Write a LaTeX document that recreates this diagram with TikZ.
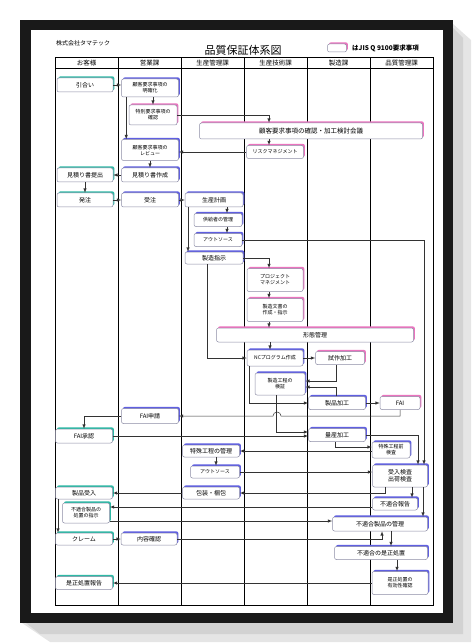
\documentclass[tikz,border=0pt]{standalone}
\usepackage{fontspec}
\setmainfont{Noto Sans CJK JP}
\usetikzlibrary{calc,arrows,shadows,positioning}
\tikzset{>=latex}
\definecolor{myteal}{RGB}{45,185,165}
\definecolor{myblue}{RGB}{95,95,225}
\definecolor{mypink}{RGB}{235,115,190}
\definecolor{myedge}{RGB}{140,140,165}

\begin{document}
\begin{tikzpicture}[x=1pt, y=-1pt,
  box/.style={draw=myedge, fill=white, rounded corners=2pt, align=center, inner sep=0pt, line width=0.5pt, font=\fontsize{6}{7}\selectfont},
  sz/.style 2 args={minimum width=#1pt, minimum height=#2pt},
  cust/.style={box, drop shadow={shadow xshift=1.4pt, shadow yshift=1.6pt, fill=myteal, opacity=1}},
  dept/.style={box, drop shadow={shadow xshift=1.4pt, shadow yshift=1.6pt, fill=myblue, opacity=1}},
  jis/.style={box, drop shadow={shadow xshift=1.4pt, shadow yshift=1.6pt, fill=mypink, opacity=1}},
  small/.style={font=\fontsize{5}{6}\selectfont},
  conn/.style={->, draw=black!80, line width=0.5pt}]
\useasboundingbox (0,0) rectangle (474,644);
% frame
\fill[gray!20] (453,24) -- (471,40) -- (471,642) -- (50,642) -- (22,623) -- (453,623) -- cycle;
\fill[gray!35] (453,28) -- (463,38) -- (463,634) -- (40,634) -- (26,623) -- (453,623) -- cycle;
\fill[black!90] (20,20) rectangle (453,623);
\fill[white] (31,30) rectangle (443,613);
% table
\draw[line width=1pt] (55,58) rectangle (433,605);
\draw[line width=1pt] (55,69) -- (433,69);
\foreach \x in {118,181,244,307,370} \draw[line width=1pt] (\x,58) -- (\x,605);
\foreach \t [count=\i] in {お客様,営業課,生産管理課,生産技術課,製造課,品質管理課}
  \node[font=\fontsize{6.5}{7}\selectfont] (head\i) at (55+63*\i-31.5,63.5) {\t};
\node[font=\fontsize{11}{12}\selectfont] (title) at (243,50) {品質保証体系図};
\node[anchor=west, font=\fontsize{6}{7}\selectfont, inner sep=0pt] (corp) at (56,43) {株式会社タマテック};
\node[jis, sz={19}{8}] (legbox) at (337,48) {};
\node[anchor=west, font=\fontsize{6.5}{7}\selectfont\bfseries, inner sep=0pt] (legtxt) at (352,48) {はJIS Q 9100要求事項};

% steps
\node[cust, sz={56}{14}] (inq) at (85,85) {引合い};
\node[dept, sz={57}{18}, small] (clar) at (150,88) {顧客要求事項の\\明確化};
\node[jis, sz={48}{20}, small] (spec) at (153,115) {特別要求事項の\\確認};
\node[jis, sz={223}{16}, font=\fontsize{6.5}{7}\selectfont] (meet) at (311,131) {顧客要求事項の確認・加工検討会議};
\node[jis, sz={57}{13}, small] (risk) at (275,152) {リスクマネジメント};
\node[dept, sz={57}{21}, small] (rev) at (150,150) {顧客要求事項の\\レビュー};
\node[cust, sz={56}{14}] (qsub) at (85,175) {見積り書提出};
\node[dept, sz={57}{14}] (qmake) at (150,175) {見積り書作成};
\node[cust, sz={56}{14}] (po) at (85,200) {発注};
\node[dept, sz={57}{14}] (ord) at (150,200) {受注};
\node[dept, sz={58}{14}] (plan) at (214,200) {生産計画};
\node[dept, sz={48}{13}, small] (supp) at (218,220) {供給者の管理};
\node[dept, sz={48}{13}, small] (outa) at (218,240) {アウトソース};
\node[dept, sz={58}{12}] (inst) at (214,258) {製造指示};
\node[jis, sz={56}{23}, small] (pm) at (275,280) {プロジェクト\\マネジメント};
\node[jis, sz={56}{23}, small] (doc) at (275,310) {製造文書の\\作成・指示};
\node[jis, sz={197}{14}] (conf) at (315,335) {形態管理};
\node[dept, sz={56}{16}, small] (nc) at (275,358) {NCプログラム作成};
\node[jis, sz={49}{13}] (trial) at (340,358) {試作加工};
\node[dept, sz={50}{22}, small] (ver) at (280,384) {製造工程の\\検証};
\node[dept, sz={57}{13}] (prod) at (337,403) {製品加工};
\node[jis, sz={40}{13}] (fai) at (400,403) {FAI};
\node[dept, sz={57}{13}] (mass) at (337,435) {量産加工};
\node[dept, sz={38}{16}, small] (pre) at (391,450) {特殊工程前\\検査};
\node[dept, sz={57}{15}] (fapp) at (150,416) {FAI申請};
\node[cust, sz={57}{14}] (fok) at (84,436) {FAI承認};
\node[dept, sz={57}{12}] (spc) at (211,451) {特殊工程の管理};
\node[dept, sz={49}{12}, small] (outb) at (215,472) {アウトソース};
\node[dept, sz={57}{12}] (pack) at (211,493) {包装・梱包};
\node[cust, sz={57}{12}] (recv) at (84,493) {製品受入};
\node[cust, sz={47}{20}, small] (disp) at (86,513) {不適合製品の\\処置の指示};
\node[cust, sz={57}{12}] (clm) at (84,539) {クレーム};
\node[dept, sz={56}{12}] (chk) at (149,539) {内容確認};
\node[cust, sz={57}{13}] (crep) at (84,583) {是正処置報告};
\node[dept, sz={55}{22}] (insp) at (400,476) {受入検査\\出荷検査};
\node[dept, sz={45}{12}] (ncr) at (395,504) {不適合報告};
\node[dept, sz={95}{14}] (ncm) at (380,524) {不適合製品の管理};
\node[dept, sz={93}{13}] (cap) at (381,553) {不適合の是正処置};
\node[dept, sz={56}{23}, small] (eff) at (400,583) {是正処置の\\有効性確認};

% flow
\draw[conn] (inq.east) -- (inq.east -| clar.west);
\draw[conn] (spec.north |- clar.south) -- (spec.north);
\draw[conn] ([xshift=5pt]clar.south west) -- ([xshift=5pt]rev.north west);
\draw[conn] (spec.east) -| (269,0 |- meet.north);
\draw[conn] (269,0 |- meet.south) -- (269,0 |- risk.north);
\draw[conn] (risk.west) -- (risk.west -| rev.east);
\draw[conn] (rev) -- (qmake);
\draw[conn] (qmake) -- (qsub);
\draw[conn] (qsub) -- (po);
\draw[conn] (po) -- (ord);
\draw[conn] (ord) -- (plan);
\draw[conn] (227,0 |- plan.south) -- (227,0 |- supp.north);
\draw[conn] (227,0 |- supp.south) -- (227,0 |- outa.north);
\draw[conn] (188,0 |- plan.south) -- (188,0 |- inst.north);
\draw[conn] (outa.east) -| (424,0 |- insp.north);
\draw[conn] (inst.east) -| (269,0 |- pm.north);
\draw[conn] (269,0 |- pm.south) -- (269,0 |- doc.north);
\draw[conn] (269,0 |- doc.south) -- (269,0 |- conf.north);
\draw[conn] (207,0 |- inst.south) |- (nc.west);
\draw[conn] (270,0 |- conf.south) -- (270,0 |- nc.north);
\draw[conn] (nc) -- (trial);
\draw[conn] (336,0 |- trial.south) |- ([yshift=3pt]ver.east);
\draw[conn] (336,0 |- prod.north) |- ([yshift=-3pt]ver.east);
\draw[conn] (249,0 |- nc.south) |- (prod.west);
\draw[conn] (prod) -- (fai);
\draw[conn] (fai.south) |- (281,416) arc[start angle=0, end angle=180, radius=4pt] -- (fapp.east);
\draw[conn] (276,0 |- ver.south) |- ([yshift=3pt]mass.west);
\draw[conn] (fapp.west) -| (fok.north);
\draw[conn] (fok.east) -- (fok.east -| mass.west);
\draw[conn] (mass.east) -| (418,0 |- insp.north);
\draw[conn] (335,0 |- mass.south) |- ([yshift=3pt]pre.west);
\draw[conn] (pre.west |- spc.east) -- (spc.east);
\draw[conn] (216,0 |- spc.south) -- (216,0 |- outb.north);
\draw[conn] (outb.east) -- (outb.east -| insp.west);
\draw[conn] (385,0 |- insp.south) |- (pack.east);
\draw[conn] (pack) -- (recv);
\draw[conn] (412,0 |- insp.south) -- (412,0 |- ncr.north);
\draw[conn] (423,0 |- insp.south) -- (423,0 |- ncm.north);
\draw[conn] (ncr.west |- 0,507) -- (disp.east |- 0,507);
\draw[conn] (disp.east |- 0,521) -- (ncm.west |- 0,521);
\draw[conn] (58,0 |- recv.south) -- (58,0 |- clm.north);
\draw[conn] (clm) -- (chk);
\draw[conn] (chk.east) -| (382,0 |- ncm.south);
\draw[conn] (391,0 |- ncm.south) -- (391,0 |- cap.north);
\draw[conn] (397,0 |- cap.south) -- (397,0 |- eff.north);
\draw[conn] (eff) -- (crep);
\end{tikzpicture}
\end{document}
